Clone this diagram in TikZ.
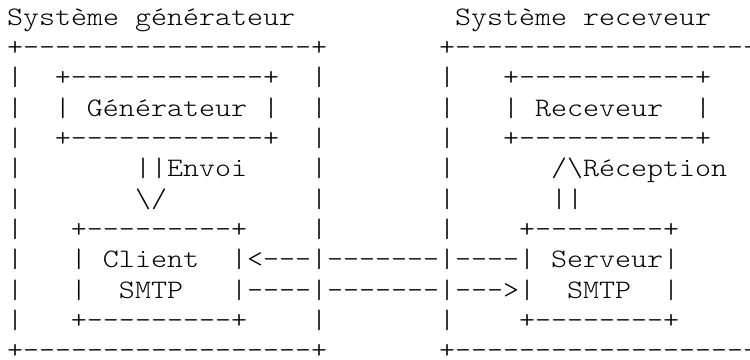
\documentclass[tikz,border=0pt]{standalone}
\usepackage{fontspec}
\newfontfamily\asc{lmmonolt10-regular.otf}[Ligatures=TeXOff, FakeStretch=1.143]
\newcommand\bs{\textbackslash{}}
\begin{document}
\begin{tikzpicture}[x=1pt,y=1pt,
  row/.style={anchor=base west, inner sep=0pt, outer sep=0pt,
    font=\asc\fontsize{26.67}{30}\selectfont, text=black}]
\useasboundingbox (0,0) rectangle (750,359);
\clip (0,0) rectangle (750,359);
\node[row] (l0)  at (7,333.6) {Système~générateur~~~~~~~~~~Système~receveur};
\node[row] (l1)  at (7,303.3) {+------------------+~~~~~~~+-------------------};
\node[row] (l2)  at (7,273.0) {|~~+------------+~~|~~~~~~~|~~~+-----------+};
\node[row] (l3)  at (7,242.7) {|~~|~Générateur~|~~|~~~~~~~|~~~|~Receveur~~|};
\node[row] (l4)  at (7,212.4) {|~~+------------+~~|~~~~~~~|~~~+-----------+};
\node[row] (l5)  at (7,182.0) {|~~~~~~~||Envoi~~~~|~~~~~~~|~~~~~~/\bs Réception};
\node[row] (l6)  at (7,151.7) {|~~~~~~~\bs/~~~~~~~~~|~~~~~~~|~~~~~~||};
\node[row] (l7)  at (7,121.4) {|~~~+---------+~~~~|~~~~~~~|~~~~+--------+};
\node[row] (l8)  at (7,91.1)  {|~~~|~Client~~|<---|-------|----|~Serveur|};
\node[row] (l9)  at (7,60.8)  {|~~~|~~SMTP~~~|----|-------|--->|~~SMTP~~|};
\node[row] (l10) at (7,30.5)  {|~~~+---------+~~~~|~~~~~~~|~~~~+--------+};
\node[row] (l11) at (7,0.2)   {+------------------+~~~~~~~+-------------------};
\end{tikzpicture}
\end{document}
